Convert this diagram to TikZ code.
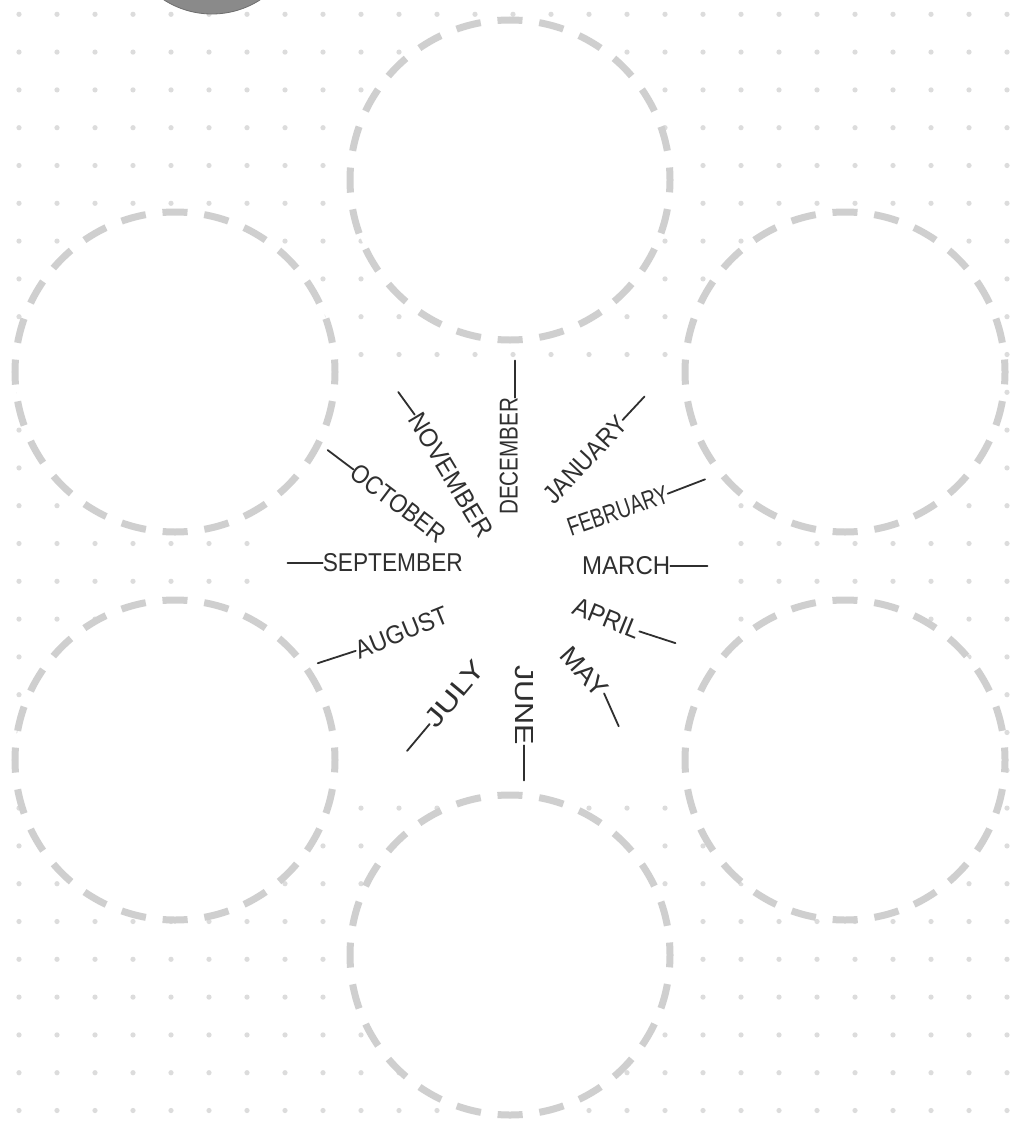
\documentclass[tikz,border=0pt]{standalone}
\usepackage{fontspec}
\setmainfont{Liberation Sans}
\usepackage{graphicx}
\definecolor{dotc}{HTML}{DCDCDC}
\definecolor{dashc}{HTML}{CFCFCF}
\definecolor{ink}{HTML}{2F2F2F}
\definecolor{knob}{HTML}{8A8A8A}
\newcommand{\monthtxt}[2]{\resizebox{#2pt}{18pt}{#1}}
\tikzset{
  dcirc/.style={circle, minimum size=320pt, inner sep=0pt, draw=dashc, fill=white,
    line width=7pt, dash pattern=on 25pt off 16.9pt, dash phase=12.5pt},
  mtxt/.style={inner sep=0pt, text=ink, font=\fontsize{25}{25}\selectfont},
  hline/.style={draw=ink, line width=1.8pt, line cap=round}
}
\begin{document}
\begin{tikzpicture}[x=1pt,y=1pt]
\useasboundingbox (0,-1124) rectangle (1009,0);
\fill[white] (0,-1124) rectangle (1009,0);
% dot grid
\foreach \i in {0,...,26}{
  \foreach \j in {0,...,29}{
    \fill[dotc] ({19+38*\i},{-14.3-37.8*\j}) circle (2.6);
  }
}
% top grey knob
\node[circle, minimum size=178pt, inner sep=0pt, fill=knob, draw=knob!80!black, line width=0.8pt] (knob) at (212,75) {};
% white panel behind the month drawing
\fill[white] (282,-358) rectangle (718,-792);
% dashed circles
\node[dcirc] (ctop) at (510,-180) {};
\node[dcirc] (cul) at (175,-372) {};
\node[dcirc] (cur) at (845,-372) {};
\node[dcirc] (cll) at (175,-760) {};
\node[dcirc] (clr) at (845,-760) {};
\node[dcirc] (cbot) at (510,-955) {};
% months, right side (reading outward)
\node[mtxt, rotate=90, anchor=mid west] (dec) at (515,-515) {\monthtxt{DECEMBER}{117}};
\node[mtxt, rotate=47, anchor=west] (jan) at (548,-500) {\monthtxt{JANUARY}{109}};
\node[mtxt, rotate=19, anchor=west] (feb) at (568,-528) {\monthtxt{FEBRUARY}{105}};
\node[mtxt, rotate=0, anchor=west] (mar) at (582,-566) {\monthtxt{MARCH}{88}};
\node[mtxt, rotate=-22, anchor=west] (apr) at (574,-605) {\monthtxt{APRIL}{70}};
\node[mtxt, rotate=-48, anchor=west] (may) at (565,-650) {\monthtxt{MAY}{58}};
\node[mtxt, rotate=-90, anchor=west] (jun) at (524,-665) {\monthtxt{JUNE}{80}};
% months, left side (reading inward)
\node[mtxt, rotate=50, anchor=east] (jul) at (480,-664) {\monthtxt{JULY}{78}};
\node[mtxt, rotate=22, anchor=east] (aug) at (447,-614) {\monthtxt{AUGUST}{98}};
\node[mtxt, rotate=0, anchor=east] (sep) at (463,-563) {\monthtxt{SEPTEMBER}{140}};
\node[mtxt, rotate=-37, anchor=east] (oct) at (443,-537) {\monthtxt{OCTOBER}{112}};
\node[mtxt, rotate=-59, anchor=east] (nov) at (487,-535) {\monthtxt{NOVEMBER}{140}};
% outer end points of the strokes
\path (dec.mid east) ++(90:37) coordinate (decx);
\path (jan.east) ++(47:32) coordinate (janx);
\path (feb.east) ++(21:40) coordinate (febx);
\path (mar.east) ++(0:37) coordinate (marx);
\path (apr.east) ++(-18:38) coordinate (aprx);
\path (may.east) ++(-66:36) coordinate (mayx);
\path (jun.east) ++(-90:35) coordinate (junx);
\path (jul.west) ++(230:35) coordinate (julx);
\path (aug.west) ++(198:40) coordinate (augx);
\path (sep.west) ++(180:35) coordinate (sepx);
\path (oct.west) ++(143:32) coordinate (octx);
\path (nov.west) ++(126:28) coordinate (novx);
% strokes
\draw[hline] (dec.mid east) -- (decx);
\draw[hline] (jan.east) -- (janx);
\draw[hline] (feb.east) -- (febx);
\draw[hline] (mar.east) -- (marx);
\draw[hline] (apr.east) -- (aprx);
\draw[hline] (may.east) -- (mayx);
\draw[hline] (jun.east) -- (junx);
\draw[hline] (jul.west) -- (julx);
\draw[hline] (aug.west) -- (augx);
\draw[hline] (sep.west) -- (sepx);
\draw[hline] (oct.west) -- (octx);
\draw[hline] (nov.west) -- (novx);
\end{tikzpicture}
\end{document}
